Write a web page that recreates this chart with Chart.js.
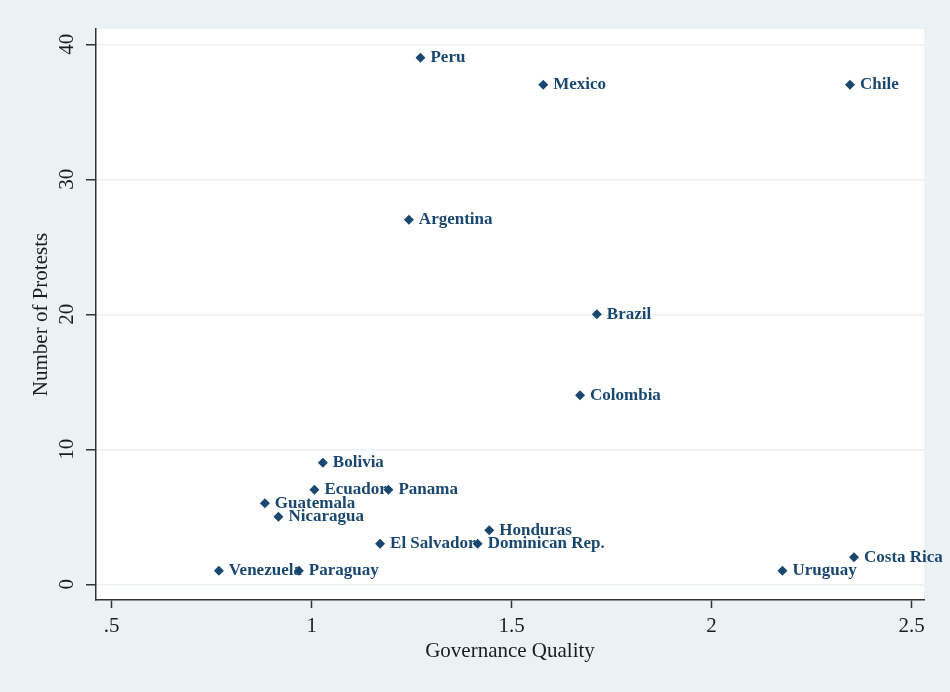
<!DOCTYPE html>
<html>
<head>
<meta charset="utf-8">
<title>Protests and Governance Quality</title>
<script src="https://cdn.jsdelivr.net/npm/chart.js@4.4.1/dist/chart.umd.min.js"></script>
<style>
  html, body { margin: 0; padding: 0; background: #eaf2f3; }
  canvas { display: block; }
</style>
</head>
<body>
<canvas id="chart" width="950" height="692"></canvas>
<script>
// Country names, governance quality scores and protest counts
const countries = [
  'Peru', 'Mexico', 'Chile', 'Argentina', 'Brazil', 'Colombia',
  'Bolivia', 'Ecuador', 'Panama', 'Guatemala', 'Nicaragua', 'Honduras',
  'El Salvador', 'Dominican Rep.', 'Venezuela', 'Paraguay', 'Costa Rica', 'Uruguay'
];
const governance = [
  1.272, 1.579, 2.346, 1.243, 1.713, 1.671,
  1.028, 1.007, 1.192, 0.883, 0.917, 1.444,
  1.171, 1.415, 0.768, 0.968, 2.356, 2.177
];
const protests = [
  39, 37, 37, 27, 20, 14,
  9, 7, 7, 6, 5, 4,
  3, 3, 1, 1, 2, 1
];

// Axis ticks
const xTickValues = [0.5, 1, 1.5, 2, 2.5];
const xTickLabels = ['.5', '1', '1.5', '2', '2.5'];
const yTickValues = [0, 10, 20, 30, 40];
const yTickLabels = ['0', '10', '20', '30', '40'];

const SERIF = "'Liberation Serif', 'Times New Roman', serif";
const NAVY = '#1a476f';
const BG = '#eaf2f3';

const points = governance.map((g, i) => ({ x: g, y: protests[i] }));

// Light outer background with a white plot region
const plotBackground = {
  id: 'plotBackground',
  beforeDraw(chart) {
    const { ctx, chartArea: a } = chart;
    ctx.save();
    ctx.fillStyle = BG;
    ctx.fillRect(0, 0, chart.width, chart.height);
    ctx.fillStyle = '#ffffff';
    ctx.fillRect(a.left, a.top, a.right - a.left, a.bottom - a.top);
    ctx.restore();
  }
};

// Country names written to the right of each marker
const markerLabels = {
  id: 'markerLabels',
  afterDatasetsDraw(chart) {
    const { ctx } = chart;
    const meta = chart.getDatasetMeta(0);
    ctx.save();
    ctx.font = 'bold 17px ' + SERIF;
    ctx.fillStyle = NAVY;
    ctx.textAlign = 'left';
    ctx.textBaseline = 'middle';
    meta.data.forEach((el, i) => {
      ctx.fillText(countries[i], el.x + 10, el.y);
    });
    ctx.restore();
  }
};

new Chart(document.getElementById('chart'), {
  type: 'scatter',
  data: {
    datasets: [{
      data: points,
      pointStyle: 'rectRot',
      pointRadius: 5,
      pointHoverRadius: 5,
      backgroundColor: NAVY,
      borderColor: NAVY,
      borderWidth: 0
    }]
  },
  options: {
    responsive: false,
    animation: false,
    events: [],
    layout: { padding: { left: 0, top: 29, right: 26, bottom: 0 } },
    plugins: {
      legend: { display: false },
      tooltip: { enabled: false }
    },
    scales: {
      x: {
        type: 'linear',
        min: 0.4608,
        max: 2.531,
        afterBuildTicks(scale) { scale.ticks = xTickValues.map(v => ({ value: v })); },
        afterFit(scale) { scale.height = 92; },
        border: { display: true, color: '#333333', width: 1.5 },
        grid: {
          display: true,
          drawOnChartArea: false,
          tickLength: 8,
          tickColor: '#333333',
          tickWidth: 1.5
        },
        ticks: {
          padding: 6,
          color: '#1c1c1c',
          font: { family: SERIF, size: 21 },
          maxRotation: 0,
          minRotation: 0,
          callback: (v) => xTickLabels[xTickValues.indexOf(v)]
        },
        title: {
          display: true,
          text: 'Governance Quality',
          color: '#1c1c1c',
          font: { family: SERIF, size: 21 },
          padding: { top: 0, bottom: 28 }
        }
      },
      y: {
        type: 'linear',
        min: -1.163,
        max: 41.13,
        afterBuildTicks(scale) { scale.ticks = yTickValues.map(v => ({ value: v })); },
        afterFit(scale) { scale.width = 96; },
        border: { display: true, color: '#333333', width: 1.5 },
        grid: {
          display: true,
          drawOnChartArea: true,
          color: BG,
          lineWidth: 1.5,
          tickLength: 10,
          tickColor: '#333333',
          tickWidth: 1.5
        },
        ticks: {
          padding: 8,
          color: '#1c1c1c',
          font: { family: SERIF, size: 21 },
          minRotation: 90,
          maxRotation: 90,
          crossAlign: 'center',
          callback: (v) => yTickLabels[yTickValues.indexOf(v)]
        },
        title: {
          display: true,
          text: 'Number of Protests',
          color: '#1c1c1c',
          font: { family: SERIF, size: 21 },
          padding: { top: 29, bottom: 0 }
        }
      }
    }
  },
  plugins: [plotBackground, markerLabels]
});
</script>
</body>
</html>
